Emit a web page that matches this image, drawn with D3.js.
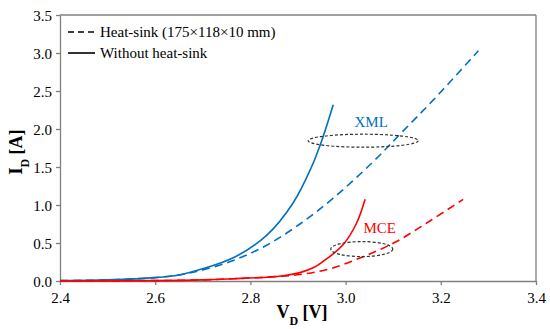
<!DOCTYPE html>
<html>
<head>
<meta charset="utf-8">
<script src="https://cdn.jsdelivr.net/npm/d3@7"></script>
<style>
  body { margin: 0; background: #fff; }
  svg text { font-family: "Liberation Serif", "Times New Roman", serif; }
</style>
</head>
<body>
<div id="chart"></div>
<script>
// readings: V_D in volts, I_D in amps
const xmlSolidV = [2.4, 2.5, 2.6, 2.65, 2.694, 2.764, 2.834, 2.89, 2.927, 2.95, 2.974];
const xmlSolidI = [0.005, 0.015, 0.045, 0.08, 0.15, 0.305, 0.6, 1.03, 1.48, 1.85, 2.32];

const xmlSinkV = [2.4, 2.5, 2.6, 2.65, 2.694, 2.764, 2.834, 2.904, 2.974, 3.058, 3.114, 3.184, 3.279];
const xmlSinkI = [0.005, 0.015, 0.045, 0.08, 0.136, 0.27, 0.47, 0.75, 1.09, 1.57, 1.93, 2.38, 3.03];

const mceSolidV = [2.4, 2.6, 2.7, 2.764, 2.834, 2.87, 2.904, 2.934, 2.96, 2.995, 3.023, 3.041];
const mceSolidI = [0.0, 0.005, 0.015, 0.03, 0.05, 0.07, 0.11, 0.18, 0.29, 0.48, 0.76, 1.075];

const mceSinkV = [2.4, 2.6, 2.7, 2.764, 2.834, 2.904, 2.967, 3.037, 3.107, 3.177, 3.247];
const mceSinkI = [0.0, 0.005, 0.015, 0.03, 0.05, 0.085, 0.16, 0.32, 0.52, 0.79, 1.075];

const xTicks = [2.4, 2.6, 2.8, 3.0, 3.2, 3.4];
const yTicks = [0, 0.5, 1.0, 1.5, 2.0, 2.5, 3.0, 3.5];

const legendLabels = ["Heat-sink (175\u00d7118\u00d710 mm)", "Without heat-sink"];

// ellipse markers: centre (V, I), and labels
const xmlMark = { v: 3.037, i: 1.846, label: "XML" };
const mceMark = { v: 3.034, i: 0.42, label: "MCE" };

const margin = { top: 15, right: 14, bottom: 48, left: 60 };
const W = 550, H = 329;
const width = W - margin.left - margin.right;
const height = H - margin.top - margin.bottom;

const svg = d3.select("#chart").append("svg")
    .attr("width", W)
    .attr("height", H);

const g = svg.append("g")
    .attr("transform", `translate(${margin.left},${margin.top})`);

const x = d3.scaleLinear().domain([2.4, 3.4]).range([0, width]);
const y = d3.scaleLinear().domain([0, 3.5]).range([height, 0]);

const axisColor = "#808080";

// frame top + right
g.append("line").attr("x1", 0).attr("x2", width).attr("y1", 0).attr("y2", 0)
    .attr("stroke", axisColor).attr("stroke-width", 1.3);
g.append("line").attr("x1", width).attr("x2", width).attr("y1", 0).attr("y2", height)
    .attr("stroke", axisColor).attr("stroke-width", 1.3);

const xAxis = g.append("g")
    .attr("transform", `translate(0,${height})`)
    .call(d3.axisBottom(x).tickValues(xTicks).tickFormat(d3.format(".1f")).tickSize(4).tickSizeOuter(0));
const yAxis = g.append("g")
    .call(d3.axisLeft(y).tickValues(yTicks).tickFormat(d3.format(".1f")).tickSize(4).tickSizeOuter(0));

[xAxis, yAxis].forEach(a => {
    a.attr("font-family", "Liberation Serif").attr("font-size", 15);
    a.select(".domain").attr("stroke", axisColor).attr("stroke-width", 1.3);
    a.selectAll(".tick line").attr("stroke", axisColor).attr("stroke-width", 1.3);
    a.selectAll(".tick text").attr("fill", "#000");
});
xAxis.selectAll(".tick text").attr("dy", "1.0em");
yAxis.selectAll(".tick text").attr("x", -8).attr("dy", "0.35em");

const line = d3.line()
    .x(d => x(d[0]))
    .y(d => y(d[1]))
    .curve(d3.curveCatmullRom.alpha(0.5));

const series = [
    { v: xmlSinkV, i: xmlSinkI, color: "#0070C0", dash: "8,5" },
    { v: xmlSolidV, i: xmlSolidI, color: "#0070C0", dash: null },
    { v: mceSinkV, i: mceSinkI, color: "#FF0000", dash: "8,5" },
    { v: mceSolidV, i: mceSolidI, color: "#FF0000", dash: null }
];

series.forEach(s => {
    g.append("path")
        .datum(d3.zip(s.v, s.i))
        .attr("fill", "none")
        .attr("stroke", s.color)
        .attr("stroke-width", 1.6)
        .attr("stroke-dasharray", s.dash)
        .attr("d", line);
});

// dashed ellipses + labels
g.append("ellipse")
    .attr("cx", x(xmlMark.v)).attr("cy", y(xmlMark.i))
    .attr("rx", 55).attr("ry", 6.5)
    .attr("fill", "none").attr("stroke", "#333").attr("stroke-width", 1.2)
    .attr("stroke-dasharray", "3,2");
g.append("text")
    .attr("x", x(xmlMark.v) + 8).attr("y", y(xmlMark.i) - 14)
    .attr("text-anchor", "middle")
    .attr("fill", "#0070C0")
    .style("font-size", "15px")
    .text(xmlMark.label);

g.append("ellipse")
    .attr("cx", x(mceMark.v)).attr("cy", y(mceMark.i))
    .attr("rx", 31).attr("ry", 7.5)
    .attr("fill", "none").attr("stroke", "#333").attr("stroke-width", 1.2)
    .attr("stroke-dasharray", "3,2");
g.append("text")
    .attr("x", x(mceMark.v) + 18).attr("y", y(mceMark.i) - 16)
    .attr("text-anchor", "middle")
    .attr("fill", "#FF0000")
    .style("font-size", "15px")
    .text(mceMark.label);

// legend
const legend = svg.append("g").attr("transform", "translate(68,32)");
legendLabels.forEach((lab, k) => {
    const row = legend.append("g").attr("transform", `translate(0,${k * 21})`);
    row.append("line")
        .attr("x1", 0).attr("x2", 27).attr("y1", 0).attr("y2", 0)
        .attr("stroke", "#000").attr("stroke-width", 1.6)
        .attr("stroke-dasharray", k === 0 ? "6,4" : null);
    row.append("text")
        .attr("x", 32).attr("y", 0).attr("dy", "0.33em")
        .style("font-size", "15px")
        .text(lab);
});

// axis titles
const xt = svg.append("text")
    .attr("x", margin.left + width / 2 + 4).attr("y", 318)
    .attr("text-anchor", "middle")
    .style("font-size", "18px").style("font-weight", "bold");
xt.append("tspan").text("V");
xt.append("tspan").attr("baseline-shift", "sub").style("font-size", "12px").text("D");
xt.append("tspan").text(" [V]");

const yt = svg.append("text")
    .attr("transform", `translate(22,${margin.top + height / 2 + 4}) rotate(-90)`)
    .attr("text-anchor", "middle")
    .style("font-size", "18px").style("font-weight", "bold");
yt.append("tspan").text("I");
yt.append("tspan").attr("baseline-shift", "sub").style("font-size", "12px").text("D");
yt.append("tspan").text(" [A]");
</script>
</body>
</html>
